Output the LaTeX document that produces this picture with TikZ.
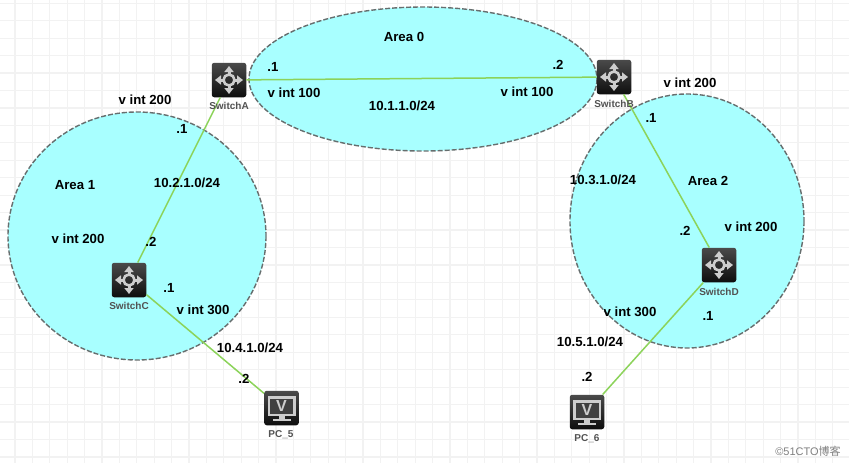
\documentclass[tikz,border=0pt]{standalone}
\usepackage{fontspec}
\setmainfont{Liberation Sans}
\newfontfamily\cjkfont{Noto Sans CJK SC}
\usetikzlibrary{arrows.meta}
\definecolor{zonefill}{HTML}{A8FFFF}
\definecolor{zoneline}{HTML}{666E6E}
\definecolor{linkgreen}{HTML}{8CD35A}
\definecolor{gridc}{HTML}{F2F2F2}
\definecolor{icontop}{HTML}{4A4A4A}
\definecolor{iconbot}{HTML}{0E0E0E}
\definecolor{glyph}{HTML}{CDCDCD}
\tikzset{
  x=1pt,y=-1pt,
  zone/.style={draw=zoneline,fill=zonefill,line width=1.4pt,dash pattern=on 5pt off 2pt},
  link/.style={draw=linkgreen,line width=1.5pt},
  lab/.style={font=\fontsize{13.2}{13.2}\selectfont\bfseries,text=black,inner sep=0pt,yshift=-0.6pt},
  devname/.style={font=\fontsize{10}{10}\selectfont\bfseries,text=black!68,inner sep=0pt},
  device/.style={draw=none,rounded corners=2.5pt,minimum width=34.5pt,minimum height=34.5pt,inner sep=0pt,top color=icontop,bottom color=iconbot},
  glyphline/.style={draw=glyph,line width=2pt},
  glyphtip/.style={-{Triangle[length=6pt,width=9pt]}},
}
\newcommand{\swglyph}[1]{%
  \begin{scope}[shift={(#1)}]
    \draw[glyphline,line width=2.6pt] (0,0) circle [radius=5.5];
    \foreach \a in {0,90,180,270}{
      \draw[glyphline,line width=3pt,glyphtip,rotate=\a] (6,0) -- (14,0);
    }
  \end{scope}}
\newcommand{\pcglyph}[1]{%
  \begin{scope}[shift={(#1)}]
    \fill[glyph] (-14,-12) rectangle (14,8);
    \fill[black!75] (-11.5,-9.5) rectangle (11.5,5.5);
    \fill[glyph] (-3,8) rectangle (3,11);
    \fill[glyph] (-9,11) rectangle (9,13);
    \node[font=\fontsize{16}{16}\selectfont\bfseries,text=glyph,inner sep=0pt] at (0,-2) {V};
  \end{scope}}
\begin{document}
\begin{tikzpicture}
\useasboundingbox (0,0) rectangle (849,463);
\fill[white] (0,0) rectangle (849,463);
\foreach \i in {0,...,48}{\draw[gridc,line width=1.2pt] ({15+17.4*\i},0) -- ({15+17.4*\i},463);}
\foreach \j in {0,...,26}{\draw[gridc,line width=1.2pt] (0,{3.2+17.45*\j}) -- (849,{3.2+17.45*\j});}

\draw[zone] (423,79) ellipse [x radius=174,y radius=72];
\draw[zone] (137,236) ellipse [x radius=129,y radius=124];
\draw[zone] (687,221) ellipse [x radius=117,y radius=127];

\node[device] (swa) at (229,80) {};
\node[device] (swb) at (614,77) {};
\node[device] (swc) at (129,280) {};
\node[device] (swd) at (719,265) {};
\node[device] (pc5) at (281.5,408) {};
\node[device] (pc6) at (587,412) {};
\swglyph{229,80}
\swglyph{614,77}
\swglyph{129,280}
\swglyph{719,265}
\pcglyph{281.5,408}
\pcglyph{587,412}

\draw[link] (swa) -- (swb);
\draw[link] (swa) -- (swc);
\draw[link] (swb) -- (swd);
\draw[link] (swc) -- (pc5);
\draw[link] (swd) -- (pc6);

\node[devname] (nswa) at (229,106) {SwitchA};
\node[devname] (nswb) at (614,104) {SwitchB};
\node[devname] (nswc) at (129,306) {SwitchC};
\node[devname] (nswd) at (719,292) {SwitchD};
\node[devname] (npc5) at (281,435) {PC\_5};
\node[devname] (npc6) at (587,439) {PC\_6};

\node[lab] (t01) at (404,36) {Area 0};
\node[lab] (t02) at (273,66) {.1};
\node[lab] (t03) at (558,64) {.2};
\node[lab] (t04) at (294,92) {v int 100};
\node[lab] (t05) at (527,91) {v int 100};
\node[lab] (t06) at (402,105) {10.1.1.0/24};
\node[lab] (t07) at (145,99) {v int 200};
\node[lab] (t08) at (182,128) {.1};
\node[lab] (t09) at (75,184) {Area 1};
\node[lab] (t10) at (187,182) {10.2.1.0/24};
\node[lab] (t11) at (78,238) {v int 200};
\node[lab] (t12) at (151,241) {.2};
\node[lab] (t13) at (169,287) {.1};
\node[lab] (t14) at (203,309) {v int 300};
\node[lab] (t15) at (250,347) {10.4.1.0/24};
\node[lab] (t16) at (244,378) {.2};
\node[lab] (t17) at (690,82) {v int 200};
\node[lab] (t18) at (651,117) {.1};
\node[lab] (t19) at (603,179) {10.3.1.0/24};
\node[lab] (t20) at (708,180) {Area 2};
\node[lab] (t21) at (751,226) {v int 200};
\node[lab] (t22) at (685,230) {.2};
\node[lab] (t23) at (630,311) {v int 300};
\node[lab] (t24) at (708,315) {.1};
\node[lab] (t25) at (590,341) {10.5.1.0/24};
\node[lab] (t26) at (587,376) {.2};
\node[font=\fontsize{11}{11}\selectfont,text=black!50,inner sep=0pt] (wm) at (808,451) {©51CTO{\cjkfont 博客}};
\end{tikzpicture}
\end{document}
